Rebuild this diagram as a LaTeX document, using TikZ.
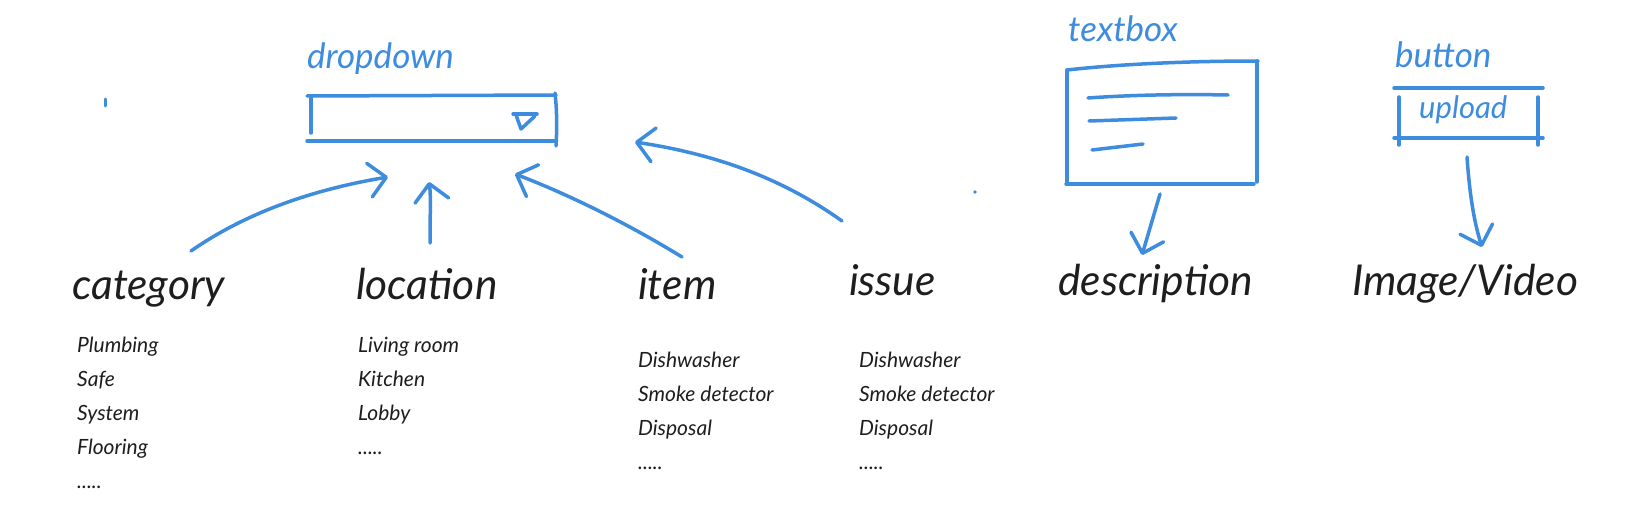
\documentclass[tikz,border=0pt]{standalone}
\usepackage{fontspec}
\setmainfont{Lato}
\usetikzlibrary{arrows.meta}
\definecolor{skblue}{RGB}{62,140,222}
\definecolor{ink}{RGB}{30,30,30}
\newcommand{\fivedots}{.\kern0pt.\kern0pt.\kern0pt.\kern0pt.}
\tikzset{
  sk/.style={draw=skblue, line width=3.5pt, line cap=round, line join=round},
  arr/.style={sk, -{Straight Barb[length=17pt,width=34pt,round]}},
  biglabel/.style={anchor=base west, inner sep=0pt, text=ink, font=\fontsize{42.5}{42.5}\selectfont\itshape},
  listtext/.style={anchor=base west, inner sep=0pt, text=ink, font=\fontsize{21}{21}\selectfont\itshape},
  bluelabel/.style={anchor=base west, inner sep=0pt, text=skblue, font=\fontsize{35}{35}\selectfont\itshape},
}
\begin{document}
\begin{tikzpicture}[x=1pt,y=-1pt]
\useasboundingbox[fill=white] (0,0) rectangle (1638,519);

% stray marks
\draw[sk, line width=3pt] (105,99) -- (105,106);
\fill[skblue] (975,192) circle (1.8);

% dropdown
\node[bluelabel] (ddlabel) at (307,69) {dropdown};
\draw[sk] (307,96) -- (556,95);
\draw[sk] (307,141) -- (556,141);
\draw[sk] (311,97) -- (311,133);
\draw[sk] (555,93) .. controls (557,110) and (557,130) .. (556,146);
\draw[sk] (513,114) -- (537,114);
\draw[sk] (516,115) -- (521,129) -- (535,116);
\coordinate (ddA) at (388,177);
\coordinate (ddB) at (429,182);
\coordinate (ddC) at (515,174);
\coordinate (ddD) at (635,142);

% textbox
\node[bluelabel] (tblabel) at (1068,42) {textbox};
\draw[sk] (1067,70) .. controls (1120,64) and (1190,61) .. (1258,61);
\draw[sk] (1067,70) -- (1067,184);
\draw[sk] (1257,61) -- (1257,182);
\draw[sk] (1066,184) -- (1254,184);
\draw[sk] (1088,98) .. controls (1130,95) and (1180,94) .. (1228,95);
\draw[sk] (1089,121) -- (1176,118);
\draw[sk] (1092,150) -- (1143,144);
\coordinate (tbOut) at (1160,194);

% button
\node[bluelabel] (btnlabel) at (1395,67) {button};
\draw[sk] (1394,88) -- (1543,88);
\draw[sk] (1394,138) -- (1543,138);
\draw[sk] (1399,97) -- (1399,145);
\draw[sk] (1538,97) -- (1538,145);
\node[bluelabel, font=\fontsize{31}{31}\selectfont\itshape] (upload) at (1419,118) {upload};
\coordinate (btnOut) at (1467,157);

% main labels
\node[biglabel] (category) at (72,299) {category};
\node[biglabel] (location) at (356,299) {location};
\node[biglabel] (item) at (638,299) {item};
\node[biglabel] (issue) at (849,295) {issue};
\node[biglabel] (description) at (1058,295) {description};
\node[biglabel] (imagevideo) at (1352,295) {Image/Video};

\coordinate (catTop) at (191,251);
\coordinate (locTop) at (430,243);
\coordinate (itemTop) at (682,257);
\coordinate (issueTop) at (842,221);
\coordinate (descTop) at (1142,255);
\coordinate (imgTop) at (1482,247);

% lists
\foreach \t [count=\i] in {Plumbing,Safe,System,Flooring,\fivedots}
  \node[listtext] (cat\i) at (77,{352+34*(\i-1)}) {\t};
\foreach \t [count=\i] in {Living room,Kitchen,Lobby,\fivedots}
  \node[listtext] (loc\i) at (358,{352+34.3*(\i-1)}) {\t};
\foreach \t [count=\i] in {Dishwasher,Smoke detector,Disposal,\fivedots}
  \node[listtext] (it\i) at (638,{367+34.3*(\i-1)}) {\t};
\foreach \t [count=\i] in {Dishwasher,Smoke detector,Disposal,\fivedots}
  \node[listtext] (is\i) at (859,{367+34.3*(\i-1)}) {\t};

% arrows
\draw[arr] (catTop) .. controls (244,214) and (310,190) .. (ddA);
\draw[arr] (locTop) .. controls (430,215) and (431,195) .. (ddB);
\draw[arr] (itemTop) .. controls (630,225) and (570,195) .. (ddC);
\draw[arr] (issueTop) .. controls (772,171) and (700,152) .. (ddD);
\draw[arr] (tbOut) -- (descTop);
\draw[arr] (btnOut) .. controls (1470,200) and (1475,225) .. (imgTop);
\end{tikzpicture}
\end{document}
